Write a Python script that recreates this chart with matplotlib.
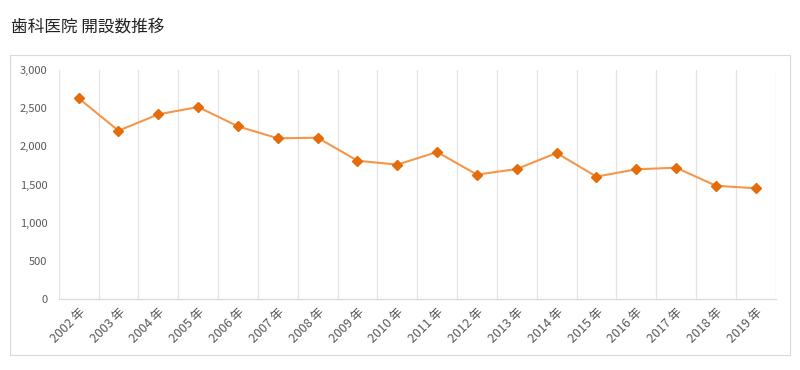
import numpy as np
import matplotlib
matplotlib.use("Agg")
import matplotlib.pyplot as plt
from matplotlib.patches import Rectangle

plt.rcParams['font.family'] = ['Noto Sans CJK JP', 'DejaVu Sans']

# 年ごとの歯科医院 開設数
years = ['2002年', '2003年', '2004年', '2005年', '2006年', '2007年', '2008年',
         '2009年', '2010年', '2011年', '2012年', '2013年', '2014年', '2015年',
         '2016年', '2017年', '2018年', '2019年']
openings = [2630, 2205, 2419, 2515, 2262, 2105, 2113, 1812, 1760, 1926,
            1629, 1703, 1913, 1603, 1699, 1720, 1484, 1450]
y_ticks = [0, 500, 1000, 1500, 2000, 2500, 3000]

fig = plt.figure(figsize=(8, 3.7), dpi=100)
# 外枠
fig.patches.append(Rectangle((10/800, 1 - 355/370), 780/800, 300/370,
                             transform=fig.transFigure, fill=False,
                             edgecolor='#D9D9D9', linewidth=0.8))
fig.text(11/800, 1 - 27/370, '歯科医院 開設数推移', fontsize=12,
         color='#222222', va='center', ha='left')

ax = fig.add_axes([58.7/800, 1 - 299/370, 717/800, 229/370])
x = np.arange(len(years))
ax.plot(x, openings, color='#F5964A', linewidth=1.5, marker='D',
        markersize=5.5, markerfacecolor='#E46C0A', markeredgecolor='#E46C0A', zorder=3)

ax.set_xlim(-0.5, len(years) - 0.5)
ax.set_ylim(0, 3000)
ax.set_yticks(y_ticks)
ax.set_yticklabels([f'{v:,}' for v in y_ticks])
ax.set_xticks(x)
ax.set_xticklabels([y.replace('年', ' 年') for y in years], rotation=45,
                   ha='right', rotation_mode='anchor', fontsize=9)

for b in np.arange(-0.5, len(years), 1.0):
    ax.axvline(b, color='#E3E3E3', linewidth=0.9, zorder=1)

for s in ['top', 'right', 'left']:
    ax.spines[s].set_visible(False)
ax.spines['bottom'].set_color('#D9D9D9')
ax.spines['bottom'].set_linewidth(0.9)
ax.tick_params(axis='both', length=0, colors='#595959')
ax.tick_params(axis='y', pad=8, labelsize=8)
ax.tick_params(axis='x', pad=5)

fig.savefig('out.png', dpi=100)
